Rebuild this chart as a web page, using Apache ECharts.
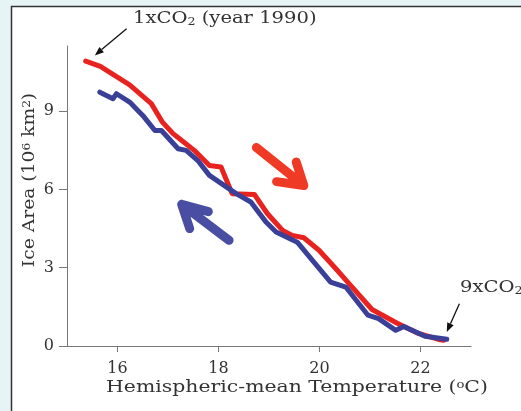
<!DOCTYPE html>
<html>
<head>
<meta charset="utf-8">
<script src="https://cdn.jsdelivr.net/npm/echarts@6/dist/echarts.min.js"></script>
<style>
  html, body { margin: 0; padding: 0; background: #e6f4f6; }
  #main { width: 521px; height: 411px; }
</style>
</head>
<body>
<div id="main"></div>
<script>
// warming run (1xCO2 -> 9xCO2), red
var warmTemp = [15.37, 15.66, 16.24, 16.67, 16.89, 17.10, 17.31, 17.52, 17.82, 18.05, 18.27, 18.71,
  18.97, 19.27, 19.46, 19.69, 19.99, 20.32, 20.58, 21.04, 21.53, 21.96, 22.36, 22.46];
var warmIce = [10.92, 10.72, 10.01, 9.29, 8.58, 8.14, 7.82, 7.50, 6.92, 6.86, 5.84, 5.81,
  5.07, 4.43, 4.24, 4.15, 3.67, 2.97, 2.40, 1.40, 0.88, 0.48, 0.25, 0.22];

// cooling run (9xCO2 -> 1xCO2), blue
var coolTemp = [15.65, 15.91, 15.98, 16.24, 16.50, 16.74, 16.87, 17.20, 17.36, 17.59, 17.82, 18.35,
  18.64, 18.94, 19.14, 19.56, 19.86, 20.22, 20.52, 20.96, 21.17, 21.51, 21.67, 22.09, 22.52];
var coolIce = [9.73, 9.48, 9.67, 9.35, 8.84, 8.26, 8.26, 7.56, 7.50, 7.11, 6.54, 5.84,
  5.52, 4.75, 4.37, 3.98, 3.28, 2.45, 2.26, 1.18, 1.05, 0.60, 0.75, 0.37, 0.26];

var xTicks = [16, 18, 20, 22];
var yTicks = [0, 3, 6, 9];

// big direction arrows: tail, tip, wing, tip, wing (data coords)
var warmArrow = [[18.75, 7.61], [19.69, 6.15], [19.54, 7.05], [19.69, 6.15], [19.15, 6.30]];
var coolArrow = [[18.21, 4.05], [17.27, 5.43], [17.80, 5.15], [17.27, 5.43], [17.43, 4.50]];

// thin pointer arrows: [tail, tip]
var startPointer = [[16.18, 12.16], [15.55, 11.14]];
var endPointer = [[22.77, 1.62], [22.52, 0.54]];

var serif = '"DejaVu Serif", "Liberation Serif", serif';
var txt = '#333';

function pairs (xs, ys) {
  return xs.map(function (x, i) { return [x, ys[i]]; });
}

var chart = echarts.init(document.getElementById('main'));

var option = {
  backgroundColor: '#e6f4f6',
  animation: false,
  grid: { left: 67, right: 50, top: 46, bottom: 65 },
  xAxis: {
    type: 'value',
    min: 15,
    max: 23,
    axisLine: { lineStyle: { color: '#777', width: 1 } },
    axisTick: { customValues: xTicks, length: 6, lineStyle: { color: '#777' } },
    axisLabel: { customValues: xTicks, margin: 15, fontFamily: serif, fontSize: 16, color: txt },
    splitLine: { show: false }
  },
  yAxis: {
    type: 'value',
    min: 0,
    max: 11.5,
    axisLine: { show: true, lineStyle: { color: '#777', width: 1 } },
    axisTick: { show: true, customValues: yTicks, length: 8, lineStyle: { color: '#777' } },
    axisLabel: { customValues: yTicks, margin: 13, fontFamily: serif, fontSize: 16, color: txt },
    splitLine: { show: false }
  },
  series: [
    {
      type: 'line',
      data: pairs(warmTemp, warmIce),
      showSymbol: false,
      symbol: 'none',
      clip: false,
      lineStyle: { color: '#e8231f', width: 5, cap: 'round', join: 'round' },
      z: 3
    },
    {
      type: 'line',
      data: pairs(coolTemp, coolIce),
      showSymbol: false,
      symbol: 'none',
      clip: false,
      lineStyle: { color: '#3a3f98', width: 5, cap: 'round', join: 'round' },
      z: 4
    },
    {
      type: 'line',
      data: warmArrow,
      symbol: 'none',
      silent: true,
      lineStyle: { color: '#ef3a26', width: 9, cap: 'round', join: 'round' }
    },
    {
      type: 'line',
      data: coolArrow,
      symbol: 'none',
      silent: true,
      lineStyle: { color: '#4a4ea3', width: 9, cap: 'round', join: 'round' }
    }
  ]
};
chart.setOption(option);

// thin black arrows, placed through the axes
function pointer (pts) {
  var a = chart.convertToPixel({ gridIndex: 0 }, pts[0]);
  var b = chart.convertToPixel({ gridIndex: 0 }, pts[1]);
  var dx = b[0] - a[0], dy = b[1] - a[1];
  var len = Math.sqrt(dx * dx + dy * dy);
  var ux = dx / len, uy = dy / len;
  var hl = 9, hw = 3.5;
  var bx = b[0] - ux * hl, by = b[1] - uy * hl;
  return [
    {
      type: 'line',
      shape: { x1: a[0], y1: a[1], x2: bx, y2: by },
      style: { stroke: '#111', lineWidth: 1.3 },
      z: 20
    },
    {
      type: 'polygon',
      shape: { points: [[b[0], b[1]], [bx - uy * hw, by + ux * hw], [bx + uy * hw, by - ux * hw]] },
      style: { fill: '#111' },
      z: 20
    }
  ];
}

var base = { fontFamily: serif, fontSize: 17, fill: txt };
var sup = { fontFamily: serif, fontSize: 11, fill: txt, verticalAlign: 'top' };
var sub = { fontFamily: serif, fontSize: 11, fill: txt, verticalAlign: 'bottom' };

var graphics = [
  {
    type: 'rect',
    shape: { x: 11.5, y: 6.5, width: 530, height: 430 },
    style: { fill: '#fff', stroke: '#333', lineWidth: 1.5 },
    z: -10,
    silent: true
  },
  {
    type: 'text',
    x: 133,
    y: 19,
    scaleX: 1.15,
    style: {
      text: '{a|1xCO}{b|2}{a| (year 1990)}',
      rich: { a: base, b: sub },
      verticalAlign: 'middle'
    },
    z: 20
  },
  {
    type: 'text',
    x: 460,
    y: 288,
    scaleX: 1.15,
    style: {
      text: '{a|9xCO}{b|2}',
      rich: { a: base, b: sub },
      verticalAlign: 'middle'
    },
    z: 20
  },
  {
    type: 'text',
    x: 30,
    y: 180,
    rotation: Math.PI / 2,
    scaleX: 1.1,
    style: {
      text: '{a|Ice Area (10}{b|6}{a| km}{b|2}{a|)}',
      rich: { a: base, b: sup },
      align: 'center',
      verticalAlign: 'middle'
    },
    z: 20
  },
  {
    type: 'text',
    x: 297,
    y: 388,
    scaleX: 1.2,
    style: {
      text: '{a|Hemispheric-mean Temperature (}{b|o}{a|C)}',
      rich: { a: base, b: sup },
      align: 'center',
      verticalAlign: 'middle'
    },
    z: 20
  }
].concat(pointer(startPointer), pointer(endPointer));

chart.setOption({ graphic: graphics });
</script>
</body>
</html>
